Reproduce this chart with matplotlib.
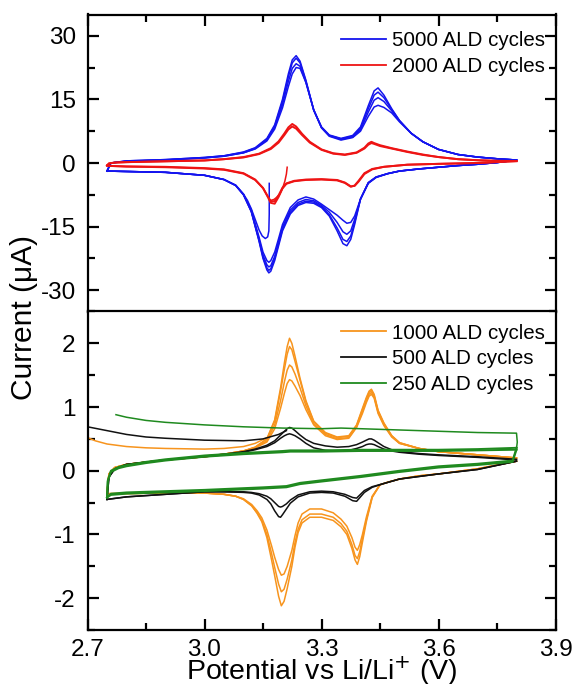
import matplotlib
matplotlib.use("Agg")
import matplotlib.pyplot as plt
from matplotlib.lines import Line2D
from matplotlib.ticker import MultipleLocator

plt.rcParams['font.family'] = ['Liberation Sans', 'DejaVu Sans']
plt.rcParams['axes.unicode_minus'] = False

# ---------------- top panel data (µA) ----------------
blue_an_V = [2.75, 2.76, 2.8, 2.9, 3.0, 3.05, 3.1, 3.13, 3.16, 3.18, 3.2, 3.215, 3.225, 3.235, 3.245,
             3.26, 3.28, 3.30, 3.32, 3.35, 3.38, 3.40, 3.42, 3.435, 3.445, 3.46, 3.48, 3.50, 3.53,
             3.56, 3.60, 3.65, 3.70, 3.75, 3.80]
blue_an_c1 = [-1.9, 0.0, 0.5, 0.8, 1.3, 1.7, 2.6, 3.6, 5.8, 9.0, 15.0, 21.0, 24.3, 25.3, 24.0, 19.5, 12.5,
              8.5, 6.6, 5.8, 6.5, 8.5, 13.5, 17.0, 17.7, 16.0, 12.8, 10.0, 7.0, 5.0, 3.2, 2.0, 1.4, 1.0, 0.7]
blue_an_c2 = [-1.9, 0.0, 0.5, 0.8, 1.3, 1.7, 2.5, 3.5, 5.6, 8.7, 14.5, 20.3, 23.6, 24.7, 23.6, 19.3, 12.5,
              8.4, 6.5, 5.7, 6.3, 8.2, 12.8, 16.0, 16.7, 15.4, 12.6, 10.0, 7.0, 5.0, 3.2, 2.0, 1.4, 1.0, 0.7]
blue_an_c3 = [-1.9, 0.0, 0.4, 0.7, 1.2, 1.6, 2.4, 3.4, 5.4, 8.4, 13.8, 19.2, 22.3, 23.4, 22.8, 19.0, 12.5,
              8.3, 6.4, 5.6, 6.1, 7.8, 12.0, 14.8, 15.4, 14.5, 12.3, 9.9, 7.0, 5.0, 3.2, 2.0, 1.4, 1.0, 0.7]
blue_an_c4 = [-1.9, 0.0, 0.4, 0.7, 1.2, 1.6, 2.4, 3.3, 5.2, 8.0, 13.0, 18.0, 21.0, 22.5, 22.3, 19.0, 12.5,
              8.3, 6.3, 5.4, 6.0, 7.5, 11.0, 13.2, 13.6, 13.1, 11.8, 9.7, 7.0, 5.0, 3.2, 2.0, 1.4, 1.0, 0.7]

blue_ca_V = [3.80, 3.75, 3.70, 3.65, 3.60, 3.55, 3.50, 3.47, 3.44, 3.42, 3.40, 3.385, 3.375, 3.365, 3.355,
             3.34, 3.32, 3.30, 3.28, 3.26, 3.24, 3.22, 3.20, 3.19, 3.18, 3.17, 3.165, 3.16, 3.15, 3.14,
             3.13, 3.12, 3.10, 3.08, 3.05, 3.0, 2.9, 2.8, 2.75]
blue_ca_c1 = [0.7, 0.1, -0.3, -0.6, -1.0, -1.4, -1.9, -2.5, -3.3, -4.6, -8.5, -14.5, -18.0, -19.5, -19.0,
              -16.0, -12.5, -10.5, -9.5, -9.3, -10.0, -12.0, -16.0, -19.5, -23.0, -25.5, -25.9, -25.2,
              -22.5, -18.5, -15.0, -11.5, -7.5, -5.3, -3.9, -2.9, -2.2, -2.0, -1.9]
blue_ca_c2 = [0.7, 0.1, -0.3, -0.6, -1.0, -1.4, -1.9, -2.5, -3.3, -4.7, -8.5, -14.0, -17.2, -18.5, -18.0,
              -15.3, -12.2, -10.3, -9.2, -9.0, -9.7, -11.6, -15.6, -19.0, -22.5, -24.9, -25.3, -24.7,
              -22.2, -18.3, -14.9, -11.4, -7.5, -5.3, -3.9, -2.9, -2.2, -2.0, -1.9]
blue_ca_c3 = [0.7, 0.1, -0.3, -0.6, -1.0, -1.4, -1.9, -2.5, -3.4, -4.7, -8.5, -13.3, -16.0, -16.8, -16.2,
              -14.0, -11.6, -10.0, -8.9, -8.6, -9.3, -11.1, -15.1, -18.5, -22.0, -24.2, -24.5, -24.0,
              -21.7, -18.0, -14.7, -11.3, -7.4, -5.3, -3.9, -2.9, -2.2, -2.0, -1.9]
blue_ca_c4 = [0.7, 0.1, -0.3, -0.6, -1.0, -1.4, -1.9, -2.5, -3.4, -4.8, -8.5, -12.5, -14.0, -14.2, -13.5,
              -12.3, -11.0, -9.7, -8.5, -8.0, -8.7, -10.5, -14.5, -17.8, -21.0, -23.0, -23.4, -23.0,
              -21.0, -17.5, -14.3, -11.0, -7.3, -5.2, -3.9, -2.9, -2.2, -2.0, -1.9]

blue_first_V = [3.166, 3.166, 3.165, 3.162, 3.156, 3.148, 3.14, 3.13, 3.12, 3.11, 3.10]
blue_first_I = [-4.8, -12.0, -16.0, -17.4, -17.8, -17.2, -15.8, -13.3, -10.8, -8.8, -7.4]

red_an_V = [2.75, 2.755, 2.77, 2.8, 2.9, 3.0, 3.05, 3.1, 3.14, 3.17, 3.19, 3.205, 3.215, 3.225, 3.235,
            3.25, 3.27, 3.30, 3.33, 3.36, 3.39, 3.41, 3.42, 3.428, 3.435, 3.45, 3.48, 3.52, 3.56, 3.60,
            3.65, 3.70, 3.75, 3.80]
red_an_c1 = [-0.6, -0.1, 0.1, 0.2, 0.4, 0.6, 0.9, 1.4, 2.2, 3.5, 5.1, 7.0, 8.4, 9.2, 8.6, 6.9, 5.0, 3.2,
             2.3, 2.0, 2.5, 3.6, 4.6, 5.0, 4.7, 4.2, 3.5, 2.7, 2.0, 1.4, 0.9, 0.65, 0.5, 0.45]
red_an_c2 = [-0.6, -0.1, 0.1, 0.2, 0.4, 0.6, 0.9, 1.3, 2.1, 3.3, 4.8, 6.6, 7.9, 8.6, 8.1, 6.6, 4.8, 3.1,
             2.2, 1.9, 2.4, 3.4, 4.3, 4.7, 4.5, 4.0, 3.4, 2.6, 1.9, 1.4, 0.9, 0.65, 0.5, 0.45]
red_ca_V = [3.80, 3.70, 3.60, 3.52, 3.46, 3.43, 3.41, 3.395, 3.385, 3.375, 3.36, 3.34, 3.30, 3.26, 3.23,
            3.21, 3.20, 3.19, 3.18, 3.17, 3.16, 3.15, 3.13, 3.10, 3.05, 3.0, 2.9, 2.8, 2.76, 2.75]
red_ca_c1 = [0.45, 0.0, -0.2, -0.4, -0.9, -1.4, -2.4, -4.2, -5.3, -5.6, -4.7, -4.1, -3.9, -4.0, -4.3,
             -4.9, -6.0, -8.0, -9.6, -9.4, -7.6, -5.9, -3.9, -2.4, -1.5, -1.2, -0.9, -0.8, -0.7, -0.6]
red_ca_c2 = [0.45, 0.0, -0.2, -0.4, -0.9, -1.5, -2.6, -4.4, -5.4, -5.5, -4.6, -4.0, -3.8, -3.9, -4.2,
             -4.8, -5.8, -7.6, -9.0, -9.0, -7.5, -5.9, -4.0, -2.5, -1.6, -1.3, -1.0, -0.85, -0.7, -0.6]
red_first_V = [3.212, 3.210, 3.206, 3.200, 3.193, 3.185, 3.178, 3.170, 3.165]
red_first_I = [-1.0, -2.6, -4.3, -6.0, -7.3, -8.1, -8.6, -8.8, -8.6]

# ---------------- bottom panel data (µA) ----------------
lo_an_V = [2.75, 2.755, 2.77, 2.8, 2.9, 3.0, 3.05, 3.1, 3.13, 3.16, 3.18, 3.195, 3.205, 3.212, 3.218,
           3.224, 3.232, 3.245, 3.26, 3.28, 3.31, 3.34, 3.37, 3.39, 3.405, 3.415, 3.422, 3.428, 3.435,
           3.445, 3.46, 3.48, 3.50, 3.55, 3.60, 3.70, 3.80]
orange_an_c1 = [-0.35, -0.05, 0.05, 0.1, 0.17, 0.22, 0.26, 0.31, 0.37, 0.5, 0.8, 1.3, 1.7, 1.95, 2.08,
                2.0, 1.8, 1.45, 1.1, 0.78, 0.6, 0.53, 0.55, 0.72, 0.98, 1.15, 1.25, 1.28, 1.2, 0.95,
                0.75, 0.55, 0.44, 0.35, 0.3, 0.25, 0.2]
orange_an_c2 = [-0.35, -0.05, 0.05, 0.1, 0.17, 0.22, 0.26, 0.31, 0.37, 0.5, 0.78, 1.25, 1.6, 1.83, 1.95,
                1.9, 1.72, 1.42, 1.08, 0.77, 0.59, 0.52, 0.54, 0.71, 0.96, 1.13, 1.23, 1.26, 1.18, 0.94,
                0.74, 0.55, 0.44, 0.35, 0.3, 0.25, 0.2]
orange_an_c3 = [-0.35, -0.05, 0.05, 0.1, 0.17, 0.22, 0.26, 0.31, 0.36, 0.47, 0.72, 1.1, 1.4, 1.58, 1.66,
                1.63, 1.52, 1.3, 1.02, 0.74, 0.57, 0.5, 0.52, 0.69, 0.93, 1.1, 1.2, 1.23, 1.16, 0.92,
                0.72, 0.54, 0.43, 0.35, 0.3, 0.25, 0.2]
orange_an_c4 = [-0.35, -0.05, 0.05, 0.1, 0.17, 0.22, 0.26, 0.31, 0.36, 0.45, 0.66, 0.98, 1.22, 1.37, 1.43,
                1.41, 1.33, 1.18, 0.96, 0.72, 0.55, 0.49, 0.51, 0.68, 0.9, 1.07, 1.17, 1.2, 1.14, 0.9,
                0.71, 0.53, 0.43, 0.35, 0.3, 0.25, 0.2]
orange_ca_V = [3.80, 3.70, 3.60, 3.55, 3.50, 3.47, 3.45, 3.43, 3.415, 3.405, 3.398, 3.392, 3.386, 3.378,
               3.365, 3.35, 3.33, 3.30, 3.27, 3.25, 3.24, 3.232, 3.224, 3.212, 3.204, 3.197, 3.19, 3.18,
               3.172, 3.16, 3.147, 3.135, 3.121, 3.10, 3.08, 3.05, 3.0, 2.9, 2.75]
orange_ca_c1 = [0.15, 0.03, -0.05, -0.08, -0.13, -0.18, -0.22, -0.42, -0.8, -1.12, -1.35, -1.47, -1.4,
                -1.22, -1.0, -0.88, -0.78, -0.73, -0.73, -0.82, -0.97, -1.2, -1.5, -1.85, -2.05, -2.12,
                -1.97, -1.65, -1.4, -1.05, -0.8, -0.67, -0.55, -0.45, -0.4, -0.37, -0.35, -0.35, -0.36]
orange_ca_c2 = [0.15, 0.03, -0.05, -0.08, -0.13, -0.18, -0.22, -0.41, -0.77, -1.06, -1.27, -1.38, -1.33,
                -1.16, -0.95, -0.83, -0.73, -0.68, -0.68, -0.77, -0.92, -1.13, -1.4, -1.7, -1.86, -1.9,
                -1.78, -1.52, -1.3, -1.0, -0.78, -0.66, -0.55, -0.45, -0.4, -0.37, -0.35, -0.35, -0.36]
orange_ca_c3 = [0.15, 0.03, -0.05, -0.08, -0.13, -0.18, -0.22, -0.4, -0.73, -1.0, -1.16, -1.25, -1.2,
                -1.05, -0.87, -0.76, -0.66, -0.6, -0.6, -0.68, -0.82, -1.02, -1.25, -1.5, -1.62, -1.64,
                -1.55, -1.36, -1.18, -0.93, -0.74, -0.63, -0.53, -0.44, -0.4, -0.37, -0.35, -0.35, -0.36]
orange_first_V = [2.70, 2.72, 2.75, 2.8, 2.85, 2.9, 3.0, 3.05, 3.1, 3.13, 3.16]
orange_first_I = [0.52, 0.47, 0.42, 0.38, 0.36, 0.35, 0.34, 0.35, 0.38, 0.43, 0.52]

black_an_c1 = [-0.45, -0.1, 0.03, 0.1, 0.17, 0.23, 0.26, 0.3, 0.34, 0.4, 0.47, 0.56, 0.62, 0.66, 0.68,
               0.67, 0.63, 0.56, 0.49, 0.43, 0.39, 0.37, 0.38, 0.41, 0.45, 0.48, 0.5, 0.5, 0.48, 0.44,
               0.38, 0.33, 0.3, 0.27, 0.25, 0.22, 0.18]
black_an_c2 = [-0.45, -0.1, 0.03, 0.1, 0.17, 0.22, 0.25, 0.29, 0.33, 0.38, 0.44, 0.51, 0.55, 0.57, 0.58,
               0.57, 0.55, 0.5, 0.43, 0.36, 0.32, 0.31, 0.32, 0.35, 0.38, 0.41, 0.42, 0.42, 0.41, 0.38,
               0.34, 0.31, 0.29, 0.26, 0.24, 0.21, 0.17]
black_ca_V = [3.80, 3.70, 3.60, 3.55, 3.50, 3.46, 3.43, 3.41, 3.40, 3.39, 3.38, 3.36, 3.33, 3.30, 3.27,
              3.24, 3.22, 3.21, 3.20, 3.195, 3.19, 3.18, 3.17, 3.16, 3.14, 3.12, 3.1, 3.05, 3.0, 2.9,
              2.8, 2.75]
black_ca_c1 = [0.15, 0.02, -0.05, -0.09, -0.13, -0.2, -0.26, -0.34, -0.41, -0.48, -0.47, -0.4, -0.35,
               -0.34, -0.35, -0.41, -0.51, -0.6, -0.69, -0.73, -0.72, -0.63, -0.52, -0.45, -0.38, -0.35,
               -0.34, -0.33, -0.33, -0.37, -0.41, -0.45]
black_ca_c2 = [0.15, 0.02, -0.05, -0.09, -0.13, -0.2, -0.25, -0.31, -0.37, -0.43, -0.42, -0.37, -0.33,
               -0.32, -0.33, -0.38, -0.46, -0.52, -0.56, -0.57, -0.56, -0.5, -0.44, -0.4, -0.36, -0.34,
               -0.33, -0.33, -0.33, -0.37, -0.41, -0.45]
black_first_V = [2.70, 2.75, 2.8, 2.85, 2.9, 3.0, 3.1, 3.15, 3.19, 3.21]
black_first_I = [0.69, 0.63, 0.57, 0.53, 0.51, 0.48, 0.47, 0.5, 0.57, 0.63]

green_an_V = [2.75, 2.752, 2.76, 2.78, 2.8, 2.85, 2.9, 3.0, 3.1, 3.2, 3.22, 3.3, 3.4, 3.5, 3.6, 3.7, 3.8]
green_an_c1 = [-0.42, -0.15, 0.0, 0.06, 0.09, 0.14, 0.18, 0.24, 0.28, 0.31, 0.32, 0.32, 0.33, 0.33,
               0.33, 0.34, 0.36]
green_an_c2 = [-0.42, -0.17, -0.02, 0.04, 0.07, 0.12, 0.16, 0.22, 0.26, 0.29, 0.3, 0.3, 0.31, 0.31,
               0.31, 0.32, 0.33]
green_ca_V = [3.80, 3.79, 3.70, 3.60, 3.50, 3.40, 3.30, 3.245, 3.21, 3.15, 3.0, 2.9, 2.8, 2.76, 2.75]
green_ca_c1 = [0.36, 0.16, 0.11, 0.07, 0.0, -0.08, -0.15, -0.19, -0.24, -0.26, -0.3, -0.32, -0.34,
               -0.36, -0.42]
green_ca_c2 = [0.33, 0.14, 0.09, 0.05, -0.02, -0.1, -0.17, -0.21, -0.26, -0.28, -0.32, -0.34, -0.36,
               -0.38, -0.42]
green_first_V = [2.773, 2.8, 2.85, 2.9, 3.0, 3.1, 3.2, 3.3, 3.35, 3.4, 3.5, 3.6, 3.7, 3.8, 3.802, 3.80]
green_first_I = [0.88, 0.84, 0.79, 0.76, 0.72, 0.69, 0.67, 0.66, 0.67, 0.66, 0.64, 0.62, 0.60, 0.59,
                 0.45, 0.35]

top_labels = ["5000 ALD cycles", "2000 ALD cycles"]
bottom_labels = ["1000 ALD cycles", "500 ALD cycles", "250 ALD cycles"]
x_ticks = [2.7, 3.0, 3.3, 3.6, 3.9]
x_ticklabels = ['2.7', '3.0', '3.3', '3.6', '3.9']
top_yticks = [-30, -15, 0, 15, 30]
bottom_yticks = [-2, -1, 0, 1, 2]

BLUE = '#1414ee'
RED = '#ee1414'
ORANGE = '#f7941d'
BLACK = '#111111'
GREEN = '#1f8a1f'

fig = plt.figure(figsize=(5.74, 6.84), dpi=100)
L, R = 87.5 / 574, 555.5 / 574
ax1 = fig.add_axes([L, 1 - 311.5 / 684, R - L, (311.5 - 14.5) / 684])
ax2 = fig.add_axes([L, 1 - 630 / 684, R - L, (630 - 311.5) / 684])

lw = 1.1
for ys in [blue_an_c1, blue_an_c2, blue_an_c3, blue_an_c4]:
    ax1.plot(blue_an_V, ys, color=BLUE, lw=lw)
for ys in [blue_ca_c1, blue_ca_c2, blue_ca_c3, blue_ca_c4]:
    ax1.plot(blue_ca_V, ys, color=BLUE, lw=lw)
ax1.plot(blue_first_V, blue_first_I, color=BLUE, lw=lw)
for ys in [red_an_c1, red_an_c2]:
    ax1.plot(red_an_V, ys, color=RED, lw=1.4)
for ys in [red_ca_c1, red_ca_c2]:
    ax1.plot(red_ca_V, ys, color=RED, lw=1.4)
ax1.plot(red_first_V, red_first_I, color=RED, lw=1.1)

for ys in [orange_an_c1, orange_an_c2, orange_an_c3, orange_an_c4]:
    ax2.plot(lo_an_V, ys, color=ORANGE, lw=lw)
for ys in [orange_ca_c1, orange_ca_c2, orange_ca_c3]:
    ax2.plot(orange_ca_V, ys, color=ORANGE, lw=lw)
ax2.plot(orange_first_V, orange_first_I, color=ORANGE, lw=lw)
for ys in [black_an_c1, black_an_c2]:
    ax2.plot(lo_an_V, ys, color=BLACK, lw=lw)
for ys in [black_ca_c1, black_ca_c2]:
    ax2.plot(black_ca_V, ys, color=BLACK, lw=lw)
ax2.plot(black_first_V, black_first_I, color=BLACK, lw=lw)
for ys in [green_an_c1, green_an_c2]:
    ax2.plot(green_an_V, ys, color=GREEN, lw=1.4)
for ys in [green_ca_c1, green_ca_c2]:
    ax2.plot(green_ca_V, ys, color=GREEN, lw=1.4)
ax2.plot(green_first_V, green_first_I, color=GREEN, lw=lw)

ax1.set_xlim(2.7, 3.9)
ax2.set_xlim(2.7, 3.9)
ax1.set_ylim(-35, 35)
ax2.set_ylim(-2.5, 2.5)
ax1.set_yticks(top_yticks)
ax2.set_yticks(bottom_yticks)
ax1.yaxis.set_minor_locator(MultipleLocator(7.5))
ax2.yaxis.set_minor_locator(MultipleLocator(0.5))
for ax in (ax1, ax2):
    ax.set_xticks(x_ticks)
    ax.xaxis.set_minor_locator(MultipleLocator(0.15))
    for s in ax.spines.values():
        s.set_linewidth(1.6)
    ax.tick_params(which='major', direction='in', length=8, width=1.6, labelsize=17.5,
                   left=True, right=True)
    ax.tick_params(which='minor', direction='in', length=5, width=1.6, left=True, right=True)
    ax.tick_params(axis='y', pad=8.5)
    ax.tick_params(axis='x', pad=6.5)
ax1.tick_params(which='both', top=True, bottom=False, labelbottom=False)
ax2.tick_params(which='both', top=False, bottom=True)
ax2.set_xticklabels(x_ticklabels)
fig.text(321.5 / 574, 1 - 680 / 684, 'Potential vs Li/Li$^{+}$ (V)', fontsize=20.5,
         ha='center', va='baseline')
fig.text(24 / 574, 1 - 318 / 684, 'Current (\u03bcA)', rotation=90, fontsize=21.5,
         ha='center', va='center')

leg_kw = dict(frameon=False, fontsize=14.8, handlelength=2.2, handletextpad=0.3,
              labelspacing=0.33, borderpad=0, borderaxespad=0, loc='upper left')
h1 = [Line2D([], [], color=BLUE, lw=1.3), Line2D([], [], color=RED, lw=1.3)]
ax1.legend(h1, top_labels, bbox_to_anchor=(0.5417, 0.944), **leg_kw)
h2 = [Line2D([], [], color=ORANGE, lw=1.3), Line2D([], [], color=BLACK, lw=1.3),
      Line2D([], [], color=GREEN, lw=1.3)]
ax2.legend(h2, bottom_labels, bbox_to_anchor=(0.5417, 0.962), **leg_kw)

fig.savefig('out.png', dpi=100)
